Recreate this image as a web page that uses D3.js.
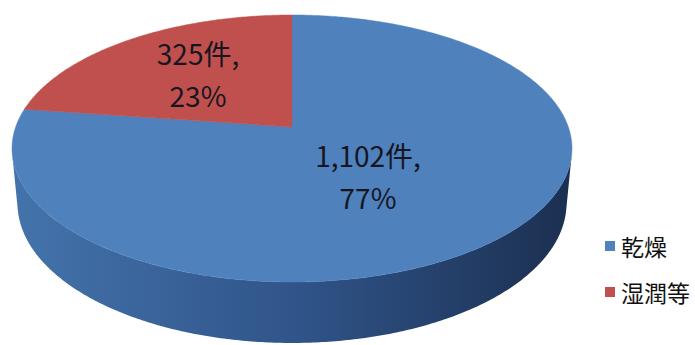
<!DOCTYPE html>
<html><head><meta charset="utf-8">
<script src="https://cdn.jsdelivr.net/npm/d3@7"></script>
<style>html,body{margin:0;padding:0;background:#fff;}svg{display:block;}</style>
</head><body>
<svg id="chart" width="695" height="345"></svg>
<script>
// ---- data ----
const categories = ["乾燥", "湿潤等"];
const counts = [1102, 325];
const percentLabels = ["77%", "23%"];
const countLabels = ["1,102件,", "325件,"];
const colors = ["#4F81BD", "#C0504D"];

// ---- layout ----
const W = 695, H = 345;
const svg = d3.select("#chart");
const X0 = 292, Y0 = 127, F = 1514, D = 5.479;
const phi = Math.asin(0.4706), S = Math.sin(phi), C = Math.cos(phi);
const T = 0.227;

function P(theta, r, h) {
  const u = r * Math.sin(theta), v = -r * Math.cos(theta);
  const z = D - h * S - v * C;
  const yc = h * C - v * S;
  return [X0 + F * u / z, Y0 - F * yc / z];
}
function samples(a0, a1) {
  const n = Math.max(2, Math.ceil((a1 - a0) / 0.01));
  return d3.range(n + 1).map(i => a0 + (a1 - a0) * i / n);
}
const line = d3.line();

const pie = d3.pie().sort(null).startAngle(0).endAngle(2 * Math.PI);
const arcs = pie(counts);

const defs = svg.append("defs");
const grad = defs.append("linearGradient").attr("id", "sideGrad")
  .attr("gradientUnits", "userSpaceOnUse").attr("x1", 12).attr("x2", 572).attr("y1", 0).attr("y2", 0);
grad.append("stop").attr("offset", "0").attr("stop-color", "#4473AB");
grad.append("stop").attr("offset", "0.5").attr("stop-color", "#30558A");
grad.append("stop").attr("offset", "1").attr("stop-color", "#1B2F50");
const gradR = defs.append("linearGradient").attr("id", "sideGradR")
  .attr("gradientUnits", "userSpaceOnUse").attr("x1", 12).attr("x2", 572).attr("y1", 0).attr("y2", 0);
gradR.append("stop").attr("offset", "0").attr("stop-color", "#A8433F");
gradR.append("stop").attr("offset", "1").attr("stop-color", "#5e1f1d");

// visible outer wall range
const vis = Math.acos(-1 / (D * C));
const vis0 = vis, vis1 = 2 * Math.PI - vis;

// side walls
arcs.forEach((a, i) => {
  const lo = Math.max(a.startAngle, vis0), hi = Math.min(a.endAngle, vis1);
  if (lo >= hi) return;
  const ts = samples(lo, hi);
  const pts = ts.map(t => P(t, 1, 0)).concat(ts.slice().reverse().map(t => P(t, 1, -T)));
  svg.append("path").attr("d", line(pts) + "Z")
    .attr("fill", i === 0 ? "url(#sideGrad)" : "url(#sideGradR)");
});

// top faces
arcs.forEach((a, i) => {
  const pts = [P(0, 0, 0)].concat(samples(a.startAngle, a.endAngle).map(t => P(t, 1, 0)));
  svg.append("path").attr("d", line(pts) + "Z")
    .attr("fill", colors[i]).attr("stroke", colors[i]).attr("stroke-width", 0.5);
});

// data labels
const labelPos = [[368, 167], [198, 65]];
arcs.forEach((a, i) => {
  const g = svg.append("g").attr("font-family", "'Noto Sans CJK JP','Noto Sans',sans-serif")
    .attr("font-size", 28).attr("fill", "#161622").attr("text-anchor", "middle");
  g.append("text").attr("x", labelPos[i][0]).attr("y", labelPos[i][1]).text(countLabels[i]);
  g.append("text").attr("x", labelPos[i][0]).attr("y", labelPos[i][1] + 42).text(percentLabels[i]);
});

// legend
const lg = svg.append("g");
categories.forEach((c, i) => {
  const cy = 246 + i * 46;
  lg.append("rect").attr("x", 605).attr("y", cy - 5).attr("width", 10).attr("height", 10).attr("fill", colors[i]);
  lg.append("text").attr("x", 621).attr("y", cy).attr("dominant-baseline", "central")
    .attr("font-family", "'Noto Sans CJK JP',sans-serif").attr("font-size", 23).attr("fill", "#111")
    .text(c);
});
</script>
</body></html>
